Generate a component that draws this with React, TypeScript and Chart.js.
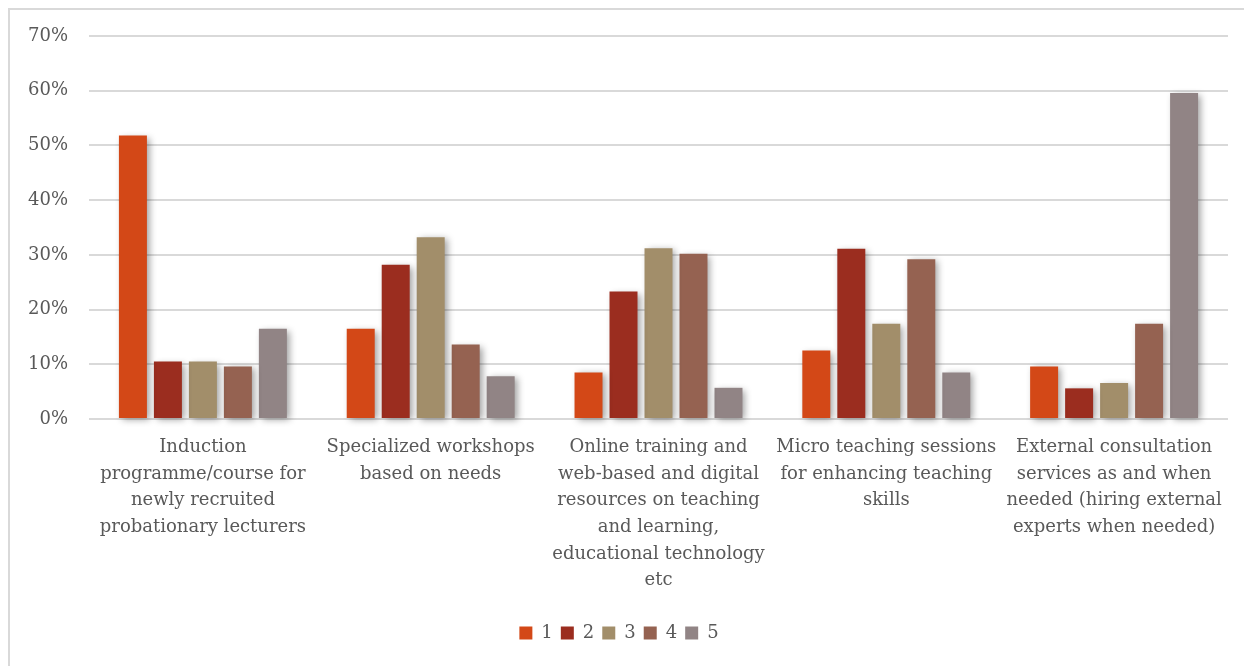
import React, { useEffect, useRef } from "react";
import { Chart, registerables } from "chart.js";

Chart.register(...registerables);

const categories: string[][] = [
  ["Induction", "programme/course for", "newly recruited", "probationary lecturers"],
  ["Specialized workshops", "based on needs"],
  ["Online training and", "web-based and digital", "resources on teaching", "and learning,", "educational technology", "etc"],
  ["Micro teaching sessions", "for enhancing teaching", "skills"],
  ["External consultation", "services as and when", "needed (hiring external", "experts when needed)"],
];

const seriesNames = ["1", "2", "3", "4", "5"];
const series1 = [51.8, 16.5, 8.5, 12.5, 9.6];
const series2 = [10.5, 28.2, 23.3, 31.1, 5.6];
const series3 = [10.5, 33.2, 31.2, 17.4, 6.6];
const series4 = [9.6, 13.6, 30.2, 29.2, 17.4];
const series5 = [16.5, 7.8, 5.7, 8.5, 59.6];
const colors = ["#D34817", "#9B2D1F", "#A28E6A", "#956251", "#918485"];
const yTicks = [0, 10, 20, 30, 40, 50, 60, 70];

const FONT = "'DejaVu Serif', serif";
const TEXT = "#595959";

const shadowPlugin = {
  id: "barShadow",
  beforeDatasetsDraw(chart: any) {
    const ctx = chart.ctx;
    ctx.save();
    ctx.shadowColor = "rgba(0,0,0,0.38)";
    ctx.shadowBlur = 7;
    ctx.shadowOffsetX = 3;
    ctx.shadowOffsetY = 2;
  },
  afterDatasetsDraw(chart: any) {
    chart.ctx.restore();
  },
};

export default function App() {
  const ref = useRef<HTMLCanvasElement>(null);
  useEffect(() => {
    if (!ref.current) return;
    const all = [series1, series2, series3, series4, series5];
    const chart = new Chart(ref.current, {
      type: "bar",
      data: {
        labels: categories,
        datasets: all.map((d, i) => ({
          label: seriesNames[i],
          data: d,
          backgroundColor: colors[i],
          borderWidth: 0,
          categoryPercentage: 0.768,
          barPercentage: 0.8,
          clip: false as any,
        })),
      },
      options: {
        animation: false,
        responsive: false,
        devicePixelRatio: 1,
        layout: { padding: { left: 0, right: 24, top: 26, bottom: 14 } },
        plugins: {
          tooltip: { enabled: false },
          legend: {
            position: "bottom",
            labels: {
              boxWidth: 13,
              boxHeight: 13,
              padding: 8,
              color: TEXT,
              font: { family: FONT, size: 18 },
            },
          },
        },
        scales: {
          x: {
            grid: { display: false, drawTicks: false },
            border: { display: false },
            ticks: {
              color: TEXT,
              font: { family: FONT, size: 18, lineHeight: 1.48 },
              padding: 15,
              maxRotation: 0,
              autoSkip: false,
            },
            afterFit: (s: any) => {
              s.height = 197;
            },
          },
          y: {
            min: 0,
            max: 70,
            afterBuildTicks: (s: any) => {
              s.ticks = yTicks.map((v) => ({ value: v }));
            },
            grid: {
              color: "#d9d9d9",
              lineWidth: 2,
              drawTicks: true,
              tickLength: 21,
              tickColor: "rgba(0,0,0,0)",
            },
            border: { display: false },
            ticks: {
              color: TEXT,
              font: { family: FONT, size: 18 },
              padding: 0,
              callback: (v: any) => v + "%",
            },
            afterFit: (s: any) => {
              s.width = 79;
            },
          },
        },
      },
      plugins: [shadowPlugin],
    });
    return () => chart.destroy();
  }, []);

  return (
    <div
      style={{
        width: 1244,
        height: 658,
        boxSizing: "border-box",
        borderLeft: "2px solid #d9d9d9",
        borderTop: "2px solid #d9d9d9",
        background: "#fff",
      }}
    >
      <canvas ref={ref} width={1242} height={656} style={{ display: "block" }} />
    </div>
  );
}
